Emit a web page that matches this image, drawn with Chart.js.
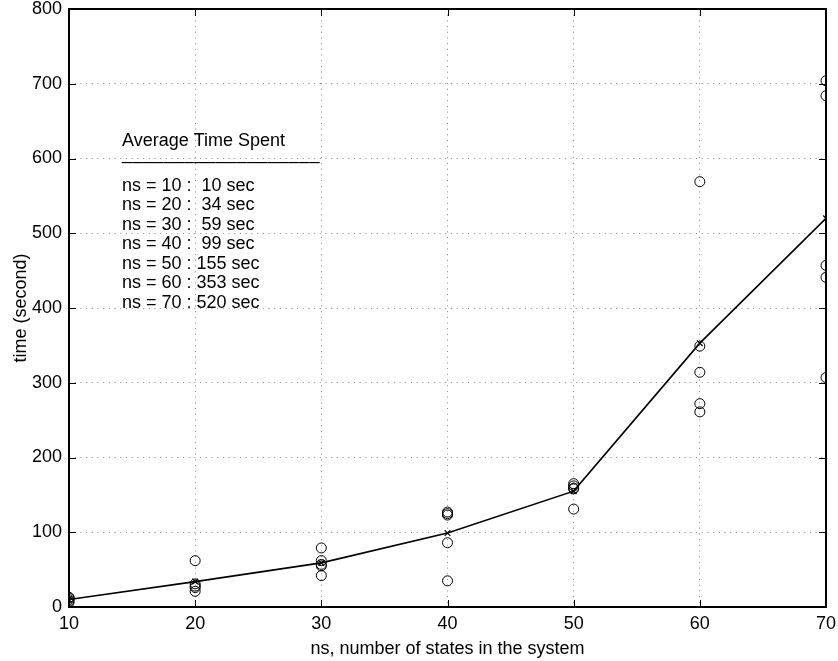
<!DOCTYPE html>
<html>
<head>
<meta charset="utf-8">
<script src="https://cdn.jsdelivr.net/npm/chart.js@4.4.1/dist/chart.umd.min.js"></script>
<style>
  html, body { margin: 0; padding: 0; background: #fff; }
</style>
</head>
<body>
<canvas id="chart" width="838" height="661"></canvas>
<script>
// number of states and the average time per size
const states = [10, 20, 30, 40, 50, 60, 70];
const avgTime = [10, 34, 59, 99, 155, 353, 520];

// single runs (circles)
const runs10 = [6, 8, 10, 12, 13];
const runs20 = [62, 31, 28, 26, 21];
const runs30 = [79, 62, 57, 55, 42];
const runs40 = [127, 125, 123, 86, 35];
const runs50 = [165, 162, 158, 159, 131];
const runs60 = [569, 314, 272, 261, 349];
const runs70 = [704, 684, 457, 441, 307];
const allRuns = [runs10, runs20, runs30, runs40, runs50, runs60, runs70];

const xTicks = [10, 20, 30, 40, 50, 60, 70];
const yTicks = [0, 100, 200, 300, 400, 500, 600, 700, 800];

const boxTitle = 'Average Time Spent';
const boxRule = '___________________';

const FONT = '"Liberation Sans", Arial, Helvetica, sans-serif';

const runPoints = [];
allRuns.forEach((list, i) => list.forEach(v => runPoints.push({ x: states[i], y: v })));
const avgPoints = states.map((s, i) => ({ x: s, y: avgTime[i] }));

// box round the plot with inward ticks, like the old plot
const framePlugin = {
  id: 'frame',
  beforeDatasetsDraw(chart) {
    const { ctx, chartArea: a, scales: { x, y } } = chart;
    ctx.save();
    ctx.strokeStyle = '#000';
    ctx.lineWidth = 1;
    ctx.beginPath();
    xTicks.forEach(t => {
      const px = Math.round(x.getPixelForValue(t)) + 0.5;
      ctx.moveTo(px, a.bottom); ctx.lineTo(px, a.bottom - 7);
      ctx.moveTo(px, a.top); ctx.lineTo(px, a.top + 7);
    });
    yTicks.forEach(t => {
      const py = Math.round(y.getPixelForValue(t)) + 0.5;
      ctx.moveTo(a.left, py); ctx.lineTo(a.left + 7, py);
      ctx.moveTo(a.right, py); ctx.lineTo(a.right - 7, py);
    });
    ctx.stroke();
    ctx.lineWidth = 2;
    ctx.strokeRect(a.left, a.top, a.right - a.left, a.bottom - a.top);
    ctx.restore();
  },
  afterDraw(chart) {
    const { ctx } = chart;
    ctx.save();
    ctx.fillStyle = '#000';
    ctx.font = '18px ' + FONT;
    ctx.textBaseline = 'middle';
    ctx.fillText(boxTitle, 122, 141);
    ctx.textBaseline = 'alphabetic';
    ctx.letterSpacing = '0.4px';
    ctx.fillText(boxRule, 122, 159);
    ctx.letterSpacing = '0px';
    ctx.textBaseline = 'middle';
    states.forEach((s, i) => {
      const val = String(avgTime[i]).padStart(3, ' ');
      ctx.fillText('ns = ' + s + ' : ' + val + ' sec', 122, 186 + i * 19.5);
    });
    ctx.restore();
  }
};

new Chart(document.getElementById('chart'), {
  type: 'scatter',
  data: {
    datasets: [
      {
        label: 'runs',
        data: runPoints,
        showLine: false,
        pointStyle: 'circle',
        pointRadius: 5,
        pointBorderWidth: 1,
        pointBorderColor: '#000',
        pointBackgroundColor: 'rgba(0,0,0,0)'
      },
      {
        label: 'average',
        data: avgPoints,
        showLine: true,
        borderColor: '#000',
        borderWidth: 1.6,
        pointStyle: 'crossRot',
        pointRadius: 4,
        pointBorderWidth: 1.2,
        pointBorderColor: '#000'
      }
    ]
  },
  options: {
    responsive: false,
    animation: false,
    devicePixelRatio: 1,
    layout: { padding: { top: 9, right: 12, left: 0, bottom: 0 } },
    plugins: { legend: { display: false }, tooltip: { enabled: false } },
    scales: {
      x: {
        type: 'linear',
        min: 10,
        max: 70,
        afterBuildTicks: s => { s.ticks = xTicks.map(v => ({ value: v })); },
        afterFit: s => { s.height = 54; s.paddingLeft = 0; s.paddingRight = 0; },
        grid: { color: '#888', lineWidth: 1, drawTicks: false },
        border: { display: false, dash: [1, 4.7] },
        ticks: { color: '#000', padding: 8, maxRotation: 0, font: { family: FONT, size: 18, lineHeight: 1 } },
        title: {
          display: true,
          text: 'ns, number of states in the system',
          color: '#000',
          padding: { top: 0, bottom: 1 },
          font: { family: FONT, size: 18 }
        }
      },
      y: {
        type: 'linear',
        min: 0,
        max: 800,
        afterBuildTicks: s => { s.ticks = yTicks.map(v => ({ value: v })); },
        afterFit: s => { s.width = 69; s.paddingTop = 0; s.paddingBottom = 0; },
        grid: { color: '#888', lineWidth: 1, drawTicks: false },
        border: { display: false, dash: [1, 4.7] },
        ticks: { color: '#000', padding: 7, font: { family: FONT, size: 18, lineHeight: 1 } },
        title: {
          display: true,
          text: 'time (second)',
          color: '#000',
          padding: { top: 10, bottom: 0 },
          font: { family: FONT, size: 18 }
        }
      }
    }
  },
  plugins: [framePlugin]
});
</script>
</body>
</html>
